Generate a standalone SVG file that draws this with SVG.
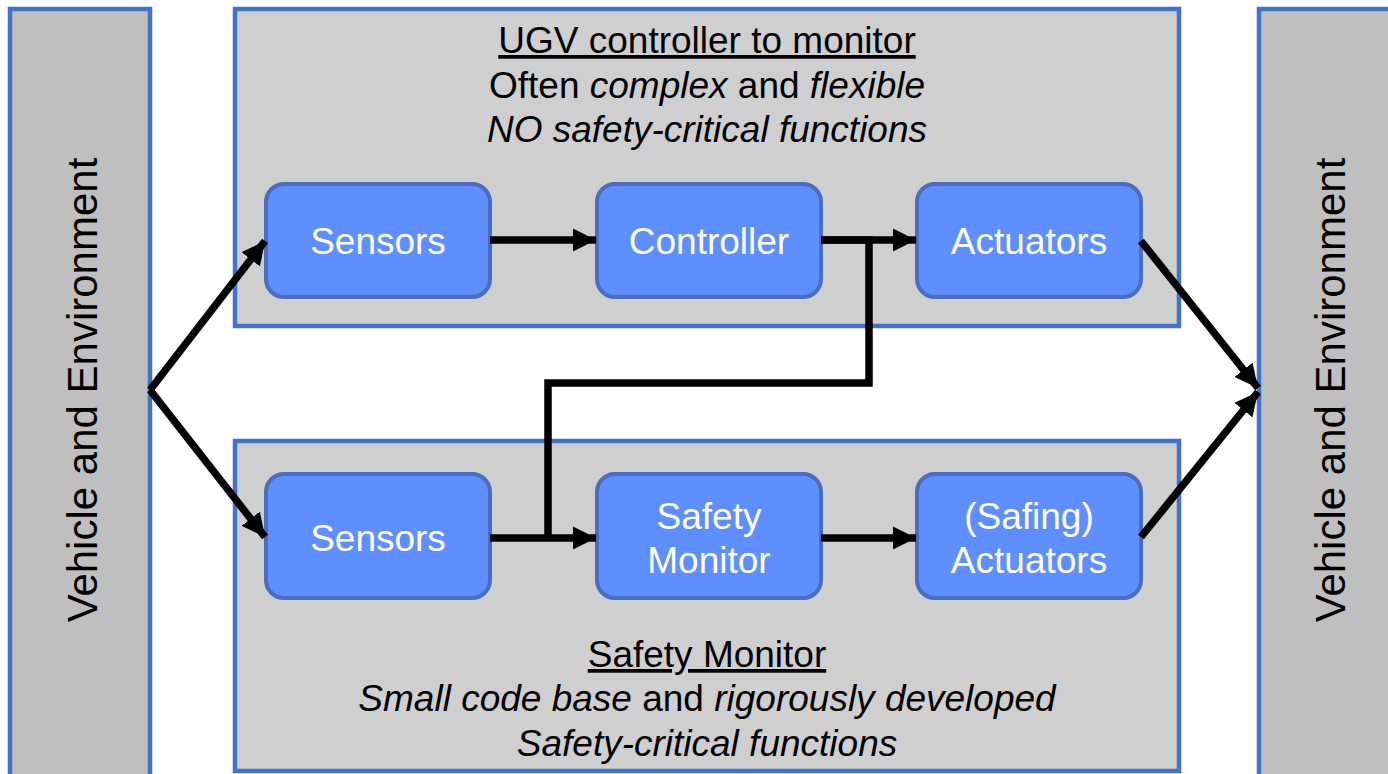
<svg xmlns="http://www.w3.org/2000/svg" width="1388" height="774" viewBox="0 0 1388 774">
  <defs>
    <style>
      .env { fill: #BFBFBF; stroke: #4472C4; stroke-width: 4.5; }
      .panel { fill: #CFCFCF; stroke: #4472C4; stroke-width: 4.5; }
      .node rect { fill: #5F8FFF; stroke: #4A6DBF; stroke-width: 4; }
      .node text { fill: #FFFFFF; font-family: "Liberation Sans", Arial, sans-serif; font-size: 37px; text-anchor: middle; }
      .label { fill: #000000; font-family: "Liberation Sans", Arial, sans-serif; font-size: 37px; text-anchor: middle; }
      .envtext { fill: #000000; font-family: "Liberation Sans", Arial, sans-serif; font-size: 42px; text-anchor: middle; }
      .wire { fill: none; stroke: #000000; stroke-width: 7.5; stroke-linejoin: miter; }
      .arrow { marker-end: url(#head); }
    </style>
    <marker id="head" viewBox="0 0 10 10" refX="10" refY="5" markerWidth="3.1" markerHeight="3.1" markerUnits="strokeWidth" orient="auto">
      <path d="M0,0 L10,5 L0,10 Z" fill="#000000"/>
    </marker>
  </defs>

  <!-- side panels -->
  <g id="env-left">
    <rect class="env" x="10" y="9" width="140" height="770"/>
    <text class="envtext" transform="translate(97,390) rotate(-90)">Vehicle and Environment</text>
  </g>
  <g id="env-right">
    <rect class="env" x="1259" y="9" width="140" height="770"/>
    <text class="envtext" transform="translate(1345,390) rotate(-90)">Vehicle and Environment</text>
  </g>

  <!-- controller panel -->
  <g id="ugv-panel">
    <rect class="panel" x="235" y="9" width="944" height="317"/>
    <text class="label" x="707" y="53" text-decoration="underline">UGV controller to monitor</text>
    <text class="label" x="707" y="98">Often <tspan font-style="italic">complex</tspan> and <tspan font-style="italic">flexible</tspan></text>
    <text class="label" x="707" y="142" font-style="italic">NO safety-critical functions</text>
  </g>

  <!-- monitor panel -->
  <g id="monitor-panel">
    <rect class="panel" x="235" y="441" width="944" height="330"/>
    <text class="label" x="707" y="667" text-decoration="underline">Safety Monitor</text>
    <text class="label" x="707" y="711"><tspan font-style="italic">Small code base</tspan> and <tspan font-style="italic">rigorously developed</tspan></text>
    <text class="label" x="707" y="756" font-style="italic">Safety-critical functions</text>
  </g>

  <!-- nodes -->
  <g id="sensors-top" class="node">
    <rect x="266" y="184" width="224" height="113" rx="18"/>
    <text x="378" y="254">Sensors</text>
  </g>
  <g id="controller" class="node">
    <rect x="597" y="184" width="224" height="113" rx="18"/>
    <text x="709" y="254">Controller</text>
  </g>
  <g id="actuators" class="node">
    <rect x="917" y="184" width="224" height="113" rx="18"/>
    <text x="1029" y="254">Actuators</text>
  </g>
  <g id="sensors-bottom" class="node">
    <rect x="266" y="474" width="224" height="124" rx="18"/>
    <text x="378" y="551">Sensors</text>
  </g>
  <g id="safety-monitor" class="node">
    <rect x="597" y="474" width="224" height="124" rx="18"/>
    <text x="709" y="529">Safety</text>
    <text x="709" y="573">Monitor</text>
  </g>
  <g id="safing-actuators" class="node">
    <rect x="917" y="474" width="224" height="124" rx="18"/>
    <text x="1029" y="529">(Safing)</text>
    <text x="1029" y="573">Actuators</text>
  </g>

  <!-- connectors -->
  <g id="connectors">
    <line class="wire arrow" x1="150" y1="390" x2="265" y2="241"/>
    <line class="wire arrow" x1="150" y1="390" x2="265" y2="537"/>
    <line class="wire arrow" x1="490" y1="240" x2="596" y2="240"/>
    <line class="wire arrow" x1="821" y1="240" x2="916" y2="240"/>
    <polyline class="wire" points="821,240 869,240 869,383 548,383 548,538"/>
    <line class="wire arrow" x1="490" y1="538" x2="596" y2="538"/>
    <line class="wire arrow" x1="821" y1="538" x2="916" y2="538"/>
    <line class="wire arrow" x1="1141" y1="241" x2="1258" y2="388"/>
    <line class="wire arrow" x1="1141" y1="537" x2="1258" y2="392"/>
  </g>
</svg>
